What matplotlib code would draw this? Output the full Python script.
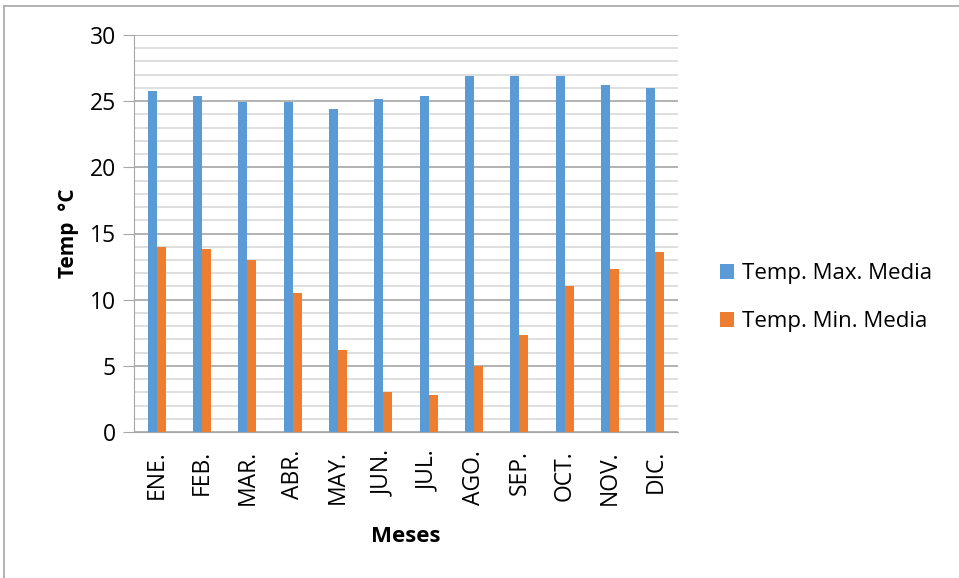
import numpy as np
import matplotlib
matplotlib.use("Agg")
import matplotlib.pyplot as plt
from matplotlib.lines import Line2D

months = ["ENE.", "FEB.", "MAR.", "ABR.", "MAY.", "JUN.", "JUL.", "AGO.", "SEP.", "OCT.", "NOV.", "DIC."]
temp_max = [25.8, 25.4, 24.9, 24.9, 24.4, 25.2, 25.4, 26.9, 26.9, 26.9, 26.2, 26.0]
temp_min = [14.0, 13.8, 13.0, 10.5, 6.2, 3.0, 2.8, 5.0, 7.3, 11.0, 12.3, 13.6]

plt.rcParams['font.family'] = ['Open Sans', 'DejaVu Sans']

fig = plt.figure(figsize=(9.59, 5.78), dpi=100)
ax = fig.add_axes([134 / 959, 1 - 432 / 578, 544 / 959, 397 / 578])

x = np.arange(len(months))
w = 0.2
ax.bar(x - w / 2, temp_max, w, color='#5B9BD5', label='Temp. Max. Media', zorder=3)
ax.bar(x + w / 2, temp_min, w, color='#ED7D31', label='Temp. Min. Media', zorder=3)

ax.set_xlim(-0.5, len(months) - 0.5)
ax.set_ylim(0, 30)
ax.set_yticks(range(0, 31, 5))
ax.set_yticks(range(0, 31), minor=True)
ax.grid(which='minor', axis='y', color='#D9D9D9', linewidth=1.2, zorder=0)
ax.grid(which='major', axis='y', color='#A6A6A6', linewidth=1.2, zorder=1)

ax.set_xticks(x)
ax.set_xticklabels(months, rotation=90, fontsize=16.5)
ax.tick_params(axis='x', length=0, pad=13)
ax.tick_params(axis='y', which='major', length=8, color='#A6A6A6', labelsize=16.5, pad=5)
ax.tick_params(axis='y', which='minor', length=0)

for s in ['top', 'right']:
    ax.spines[s].set_visible(False)
ax.spines['left'].set_color('#A6A6A6')
ax.spines['bottom'].set_color('#A6A6A6')

ax.set_ylabel('Temp  °C', fontsize=15, fontweight='bold', labelpad=8)
ax.set_xlabel('Meses', fontsize=16, fontweight='bold', labelpad=15)

ax.legend(loc='center left', bbox_to_anchor=(1.04, 0.338), frameon=False, fontsize=16,
          handlelength=0.65, handleheight=0.65, labelspacing=1.22, handletextpad=0.35)

# outer chart border (top and left visible)
fig.add_artist(Line2D([4 / 959, 1], [1 - 6 / 578, 1 - 6 / 578], color='#A6A6A6', linewidth=1.2))
fig.add_artist(Line2D([4 / 959, 4 / 959], [0, 1 - 6 / 578], color='#A6A6A6', linewidth=1.2))

fig.savefig('out.png', dpi=100)
